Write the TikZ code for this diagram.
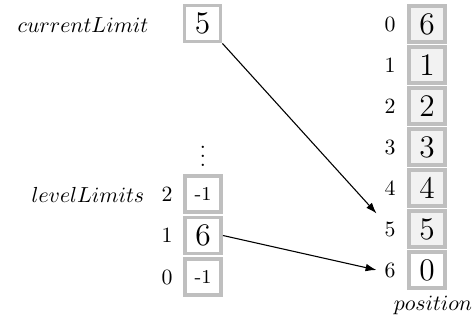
\documentclass[tikz,border=0pt]{standalone}
\usetikzlibrary{arrows.meta}
\begin{document}
\begin{tikzpicture}[x=0.4587pt,y=-0.4587pt,
  cell/.style={draw=gray!50,line width=1.8pt,minimum size=16.5pt,inner sep=0pt,font=\Large},
  fcell/.style={cell,fill=gray!10},
  smallcell/.style={cell,font=\small},
  idx/.style={inner sep=3.5pt},
  arr/.style={-{Latex[length=5pt,width=3.5pt]},line width=0.5pt}]
\useasboundingbox (0,0) rectangle (474,324);
% current limit
\node (cl) at (83,25) {$currentLimit$};
\node[cell] (clbox) at (202.5,23.5) {5};
% position column
\node[fcell] (c0) at (427,24) {6};
\node[fcell] (c1) at (427,65) {1};
\node[fcell] (c2) at (427,106) {2};
\node[fcell] (c3) at (427,147) {3};
\node[fcell] (c4) at (427,188) {4};
\node[fcell] (c5) at (427,229) {5};
\node[cell] (c6) at (427,270) {0};
\node[idx] (p0) at (390,24) {0};
\node[idx] (p1) at (390,65) {1};
\node[idx] (p2) at (390,106) {2};
\node[idx] (p3) at (390,147) {3};
\node[idx] (p4) at (390,188) {4};
\node[idx] (p5) at (390,229) {5};
\node[idx] (p6) at (390,270) {6};
\node (pos) at (433,305) {$position$};
% level limits
\node (dots) at (203,150) {$\vdots$};
\node (ll) at (88,195) {$levelLimits$};
\node[smallcell] (l2) at (203,194) {-1};
\node[cell] (l1) at (203,235.5) {6};
\node[smallcell] (l0) at (203,277) {-1};
\node[idx] (q2) at (167,194) {2};
\node[idx] (q1) at (167,235.5) {1};
\node[idx] (q0) at (167,277) {0};
% arrows
\draw[arr] (clbox.south east) -- (p5.north west);
\draw[arr] (l1.east) -- (p6.west);
\end{tikzpicture}
\end{document}
